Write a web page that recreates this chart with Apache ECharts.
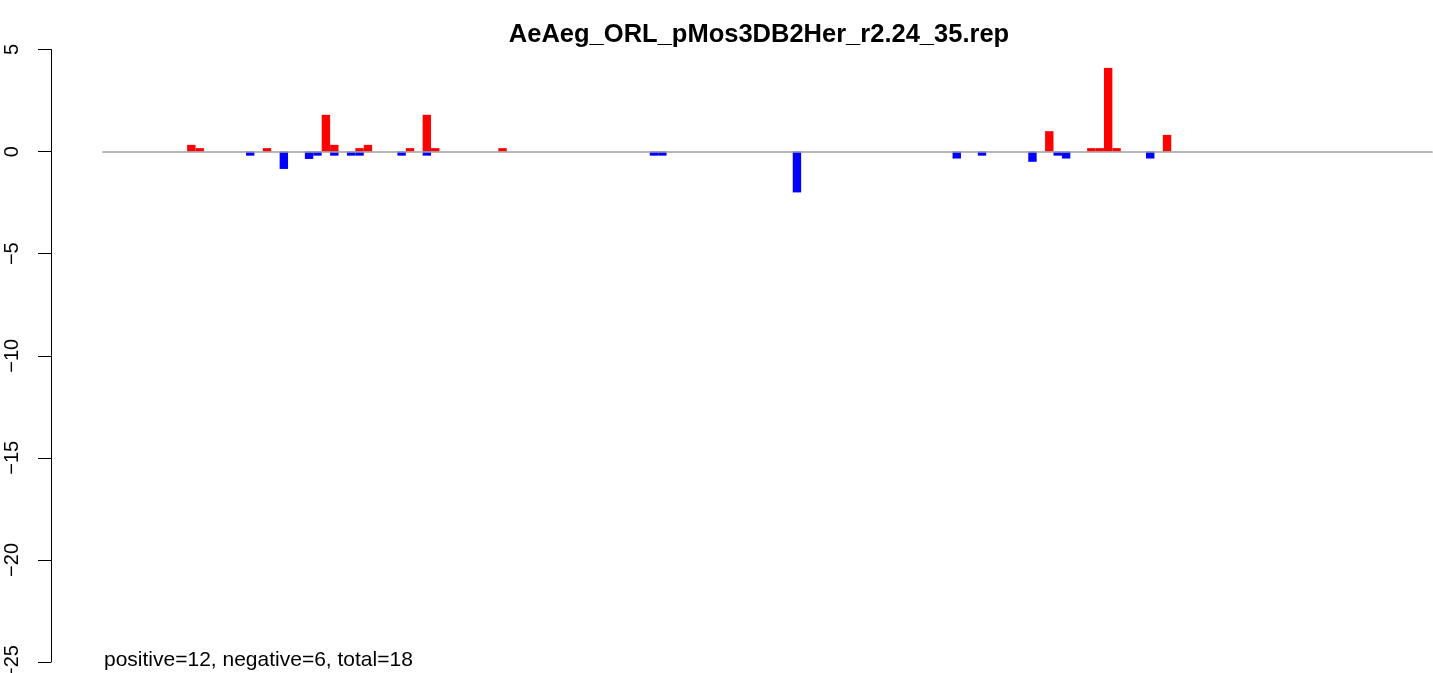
<!DOCTYPE html>
<html>
<head>
<meta charset="utf-8">
<script src="https://cdn.jsdelivr.net/npm/echarts@6/dist/echarts.min.js"></script>
<style>
  html, body { margin: 0; padding: 0; background: #fff; }
  #chart { width: 1433px; height: 673px; }
</style>
</head>
<body>
<div id="chart"></div>
<script>
// number of bar slots along the x axis
var nCats = 158;

// positive bars (red): slot index and value
var posIdx = [10, 11, 19, 26, 27, 30, 31, 36, 38, 39, 47, 112, 117, 118, 119, 120, 126];
var posVal = [0.33, 0.17, 0.17, 1.8, 0.33, 0.17, 0.33, 0.17, 1.8, 0.17, 0.17, 1.0, 0.17, 0.17, 4.1, 0.17, 0.82];

// negative bars (blue)
var negIdx = [17, 21, 24, 25, 27, 29, 30, 35, 38, 65, 66, 82, 101, 104, 110, 113, 114, 124];
var negVal = [-0.2, -0.85, -0.36, -0.2, -0.2, -0.2, -0.2, -0.2, -0.2, -0.2, -0.2, -2.0, -0.34, -0.2, -0.5, -0.2, -0.34, -0.34];

var yTicks = [-25, -20, -15, -10, -5, 0, 5];
var titleText = 'AeAeg_ORL_pMos3DB2Her_r2.24_35.rep';
var noteText = 'positive=12, negative=6, total=18';

function fillSlots(idx, vals) {
    var out = [];
    for (var i = 0; i < nCats; i++) out.push(null);
    for (var j = 0; j < idx.length; j++) out[idx[j]] = vals[j];
    return out;
}

var cats = [];
for (var i = 0; i < nCats; i++) cats.push(String(i + 1));

var myChart = echarts.init(document.getElementById('chart'));
var option = {
    animation: false,
    title: {
        text: titleText,
        left: 754,
        top: 17,
        textAlign: 'center',
        textStyle: {
            fontFamily: 'Liberation Sans, Arial, sans-serif',
            fontSize: 25.5,
            fontWeight: 'bold',
            color: '#000'
        }
    },
    graphic: [{
        type: 'text',
        x: 104,
        y: 660,
        style: {
            text: noteText,
            font: '21px "Liberation Sans", Arial, sans-serif',
            fill: '#000',
            verticalAlign: 'middle'
        }
    }],
    grid: {
        left: 103,
        right: 1,
        top: 49.5,
        bottom: 11,
        outerBoundsMode: 'none'
    },
    xAxis: {
        type: 'category',
        data: cats,
        z: 5,
        axisLine: {
            onZero: true,
            lineStyle: { color: '#a0a0a0', width: 1.7 }
        },
        axisTick: { show: false },
        axisLabel: { show: false },
        splitLine: { show: false }
    },
    yAxis: {
        type: 'value',
        min: yTicks[0],
        max: yTicks[yTicks.length - 1],
        interval: 5,
        offset: 52,
        axisLine: { show: true, lineStyle: { color: '#000', width: 1 } },
        axisTick: { show: true, length: 13, lineStyle: { color: '#000' } },
        splitLine: { show: false },
        axisLabel: {
            rotate: 90,
            margin: 29,
            color: '#000',
            fontSize: 20,
            fontFamily: 'Liberation Sans, Arial, sans-serif',
            formatter: function (v) { return String(v).replace('-', '\u2212'); }
        }
    },
    series: [
        {
            name: 'positive',
            type: 'bar',
            data: fillSlots(posIdx, posVal),
            barWidth: '100%',
            barGap: '-100%',
            itemStyle: { color: '#ff0000' }
        },
        {
            name: 'negative',
            type: 'bar',
            data: fillSlots(negIdx, negVal),
            barWidth: '100%',
            barGap: '-100%',
            itemStyle: { color: '#0000ff' }
        }
    ]
};
myChart.setOption(option);
</script>
</body>
</html>
